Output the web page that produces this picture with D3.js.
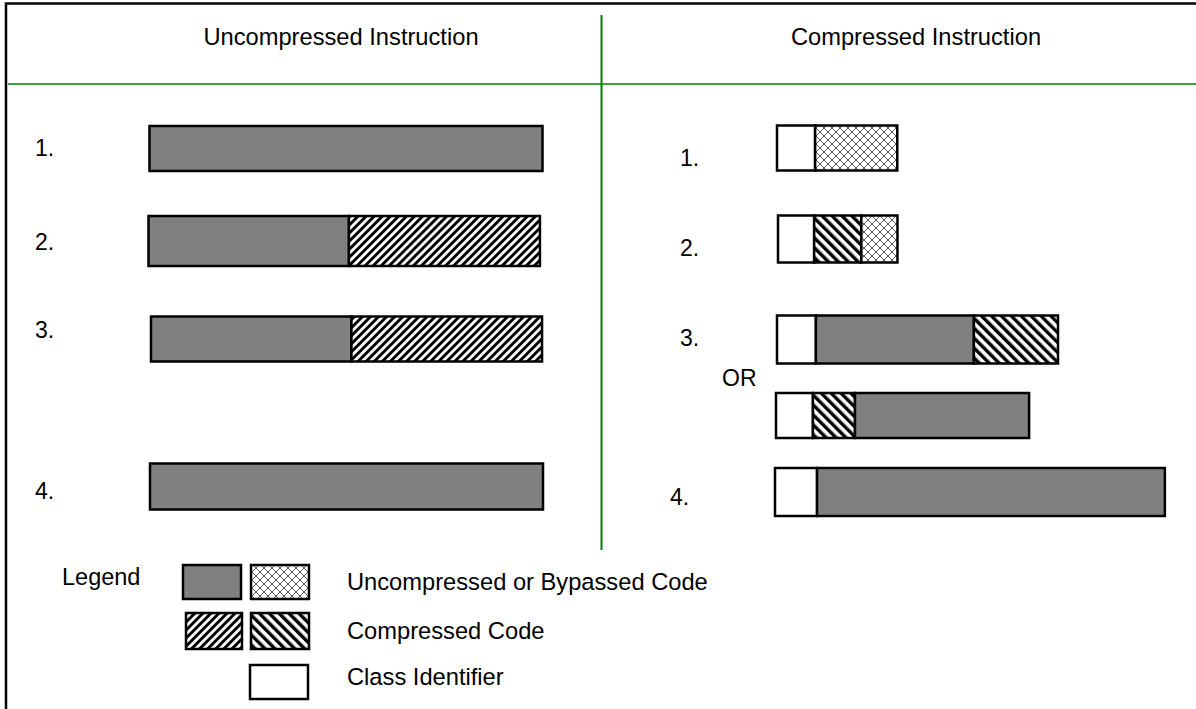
<!DOCTYPE html>
<html>
<head>
<meta charset="utf-8">
<script src="https://cdn.jsdelivr.net/npm/d3@7"></script>
<style>
    body { margin: 0; background: #fff; }
    text { font-family: "Liberation Sans", Arial, sans-serif; fill: #000; }
</style>
</head>
<body>
<div id="chart"></div>
<script>
// Données : longueur de chaque segment (unités relatives, 100 = instruction complète)
const panelTitles = ["Uncompressed Instruction", "Compressed Instruction"];
const rowLabels = ["1.", "2.", "3.", "OR", "4."];

// Instructions non compressées : [type, longueur]
const uncompressedRows = [
    [["gray", 100]],
    [["gray", 51], ["fwd", 48.6]],
    [["gray", 51], ["fwd", 48.5]],
    [["gray", 100]]
];
// Instructions compressées
const compressedRows = [
    [["white", 9.7], ["cross", 20.9]],
    [["white", 9.2], ["back", 12], ["cross", 9.2]],
    [["white", 9.9], ["gray", 40.2], ["back", 21.4]],
    [["white", 9.4], ["back", 10.7], ["gray", 44.3]],
    [["white", 10.7], ["gray", 88.5]]
];
const legendLabels = ["Uncompressed or Bypassed Code", "Compressed Code", "Class Identifier"];
const legendSwatches = [["gray", "cross"], ["fwd", "back"], ["white"]];

const width = 1196, height = 709;

const svg = d3.select("#chart").append("svg")
    .attr("width", width)
    .attr("height", height);

// Motifs de remplissage (hachures)
const defs = svg.append("defs");
const fwd = defs.append("pattern")
    .attr("id", "fwd")
    .attr("patternUnits", "userSpaceOnUse")
    .attr("width", 5.7).attr("height", 5.7)
    .attr("patternTransform", "rotate(45)");
fwd.append("rect").attr("width", 5.7).attr("height", 5.7).attr("fill", "#fff");
fwd.append("rect").attr("width", 2.9).attr("height", 5.7).attr("fill", "#000");

const back = defs.append("pattern")
    .attr("id", "back")
    .attr("patternUnits", "userSpaceOnUse")
    .attr("width", 7).attr("height", 7)
    .attr("patternTransform", "rotate(-45)");
back.append("rect").attr("width", 7).attr("height", 7).attr("fill", "#fff");
back.append("rect").attr("width", 3.4).attr("height", 7).attr("fill", "#000");

const cross = defs.append("pattern")
    .attr("id", "cross")
    .attr("patternUnits", "userSpaceOnUse")
    .attr("width", 8).attr("height", 8);
cross.append("rect").attr("width", 8).attr("height", 8).attr("fill", "#fff");
cross.append("path")
    .attr("d", "M0,0L8,8M8,0L0,8")
    .attr("stroke", "#444")
    .attr("stroke-width", 0.9);

const fills = {gray: "#808080", white: "#fff", fwd: "url(#fwd)", back: "url(#back)", cross: "url(#cross)"};

// Cadre et séparateurs
svg.append("rect")
    .attr("x", 6).attr("y", 3.5)
    .attr("width", width + 20).attr("height", height + 20)
    .attr("fill", "none")
    .attr("stroke", "#000")
    .attr("stroke-width", 2.5);
svg.append("line")
    .attr("x1", 8).attr("x2", width)
    .attr("y1", 84).attr("y2", 84)
    .attr("stroke", "#008000").attr("stroke-width", 1.6);
svg.append("line")
    .attr("x1", 601.5).attr("x2", 601.5)
    .attr("y1", 15).attr("y2", 550)
    .attr("stroke", "#008000").attr("stroke-width", 2);

// Titres
svg.selectAll(".title").data(panelTitles).enter()
    .append("text")
    .attr("class", "title")
    .attr("x", (d, i) => [341, 916][i])
    .attr("y", 45)
    .attr("text-anchor", "middle")
    .style("font-size", "23.7px")
    .text(d => d);

// Echelle des longueurs : 100 unités = 393 px
const x = d3.scaleLinear().domain([0, 100]).range([0, 393]);

// Dessine une barre segmentée à partir d'une position de départ
function drawBar(g, segs, x0, y0, h) {
    let acc = 0;
    const starts = segs.map(s => { const a = acc; acc += s[1]; return a; });
    g.selectAll("rect.seg").data(segs).enter()
        .append("rect")
        .attr("class", "seg")
        .attr("x", (d, i) => x0 + x(starts[i]))
        .attr("y", y0)
        .attr("width", d => x(d[1]))
        .attr("height", h)
        .attr("fill", d => fills[d[0]])
        .attr("stroke", "#000")
        .attr("stroke-width", 2.5);
}

// Positions des lignes (mise en page)
const leftLayout = [
    {x: 149.5, y: 126, h: 45, ly: 156},
    {x: 148.5, y: 216, h: 50, ly: 250},
    {x: 151, y: 316.5, h: 45, ly: 338},
    {x: 150, y: 463.5, h: 46, ly: 499}
];
const rightLayout = [
    {x: 777, y: 125.5, h: 45, ly: 166, lx: 680},
    {x: 778, y: 215.5, h: 47, ly: 256, lx: 680},
    {x: 777, y: 315.5, h: 48, ly: 346, lx: 680},
    {x: 776, y: 393, h: 45, ly: 386, lx: 722},
    {x: 775, y: 468, h: 48, ly: 505, lx: 670}
];

const left = svg.append("g");
uncompressedRows.forEach(function(segs, i) {
    const l = leftLayout[i];
    drawBar(left.append("g"), segs, l.x, l.y, l.h);
    left.append("text")
        .attr("x", 35)
        .attr("y", l.ly)
        .style("font-size", "23px")
        .text(rowLabels[i < 3 ? i : 4]);
});

const right = svg.append("g");
compressedRows.forEach(function(segs, i) {
    const l = rightLayout[i];
    drawBar(right.append("g"), segs, l.x, l.y, l.h);
    right.append("text")
        .attr("x", l.lx)
        .attr("y", l.ly)
        .style("font-size", "23px")
        .text(rowLabels[i]);
});

// Légende
svg.append("text")
    .attr("x", 62).attr("y", 585)
    .style("font-size", "23.5px")
    .text("Legend");

const legendBoxes = [
    [{x: 183, y: 565}, {x: 251, y: 565}],
    [{x: 186, y: 613}, {x: 251, y: 613}],
    [{x: 250, y: 665}]
];
legendSwatches.forEach(function(row, i) {
    row.forEach(function(type, j) {
        const b = legendBoxes[i][j];
        svg.append("rect")
            .attr("x", b.x).attr("y", b.y)
            .attr("width", i === 1 && j === 0 ? 56 : 58)
            .attr("height", i === 1 ? 36 : 34)
            .attr("fill", fills[type])
            .attr("stroke", "#000")
            .attr("stroke-width", 2.5);
    });
});
svg.selectAll(".legendText").data(legendLabels).enter()
    .append("text")
    .attr("class", "legendText")
    .attr("x", 347)
    .attr("y", (d, i) => [590, 639, 685][i])
    .style("font-size", "23.7px")
    .text(d => d);
</script>
</body>
</html>
